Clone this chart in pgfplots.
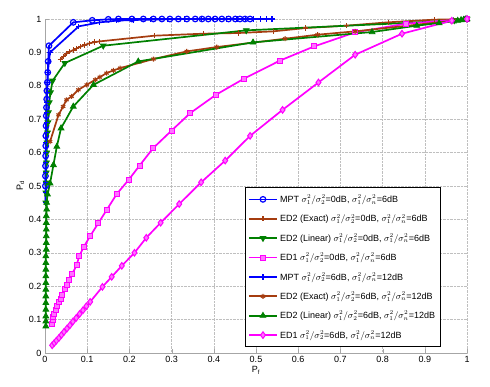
\documentclass[border=0pt]{standalone}
\usepackage{pgfplots}
\pgfplotsset{compat=1.18}
\usepackage{fontspec}
\setmainfont{Liberation Sans}
\usetikzlibrary{calc}

\definecolor{cblue}{RGB}{0,0,255}
\definecolor{cbrown}{RGB}{165,60,15}
\definecolor{cgreen}{RGB}{0,128,0}
\definecolor{cmag}{RGB}{255,0,255}

\begin{document}
\begin{tikzpicture}
\begin{axis}[
    name=ax,
    scale only axis,
    width=422pt, height=334pt,
    xmin=0, xmax=1, ymin=0, ymax=1,
    xtick={0,0.1,...,1}, ytick={0,0.1,...,1},
    xticklabels={0,0.1,0.2,0.3,0.4,0.5,0.6,0.7,0.8,0.9,1},
    yticklabels={0,0.1,0.2,0.3,0.4,0.5,0.6,0.7,0.8,0.9,1},
    axis lines=left,
    axis line style={gray!70, -},
    tick style={gray!70},
    tick align=inside,
    grid=major,
    grid style={densely dotted, gray!50},
    font=\fontsize{9}{11}\selectfont,
    xlabel={P$_\mathrm{f}$}, ylabel={P$_\mathrm{d}$},
    xlabel style={yshift=3pt},
    ylabel style={yshift=-2pt},
    clip=false,
    every axis plot/.append style={line width=1.7pt},
    legend cell align=left,
    legend style={at={(0.937,0.018)}, anchor=south east, draw=black, line width=0.6pt,
        font=\fontsize{9}{10}\selectfont, row sep=6.2pt, inner xsep=3pt, inner ysep=5pt},
    legend image code/.code={\draw[mark repeat=2,mark phase=2] plot coordinates {(0cm,0cm)(0.5cm,0cm)(1cm,0cm)};},
]
% MPT 0dB / 6dB
\addplot[cblue, mark=o, mark size=2.8pt, mark options={line width=1.2pt}] coordinates {
(0.001,0.50)(0.001,0.53)(0.0012,0.56)(0.0015,0.59)(0.0018,0.62)(0.002,0.65)(0.0025,0.68)(0.003,0.71)
(0.0035,0.735)(0.004,0.76)(0.0045,0.785)(0.0055,0.81)(0.0065,0.84)(0.0075,0.873)(0.0095,0.92)
(0.067,0.99)(0.112,0.996)(0.15,0.999)(0.174,1)(0.206,1)(0.233,1)(0.257,1)(0.277,1)(0.296,1)(0.316,1)
(0.336,1)(0.356,1)(0.372,1)(0.387,1)(0.403,1)(0.419,1)(0.435,1)(0.451,1)(0.462,1)(0.474,1)(0.486,1)
};
\addlegendentry{MPT $\sigma_1^2/\sigma_2^2$=0dB, $\sigma_1^2/\sigma_n^2$=6dB}
% ED2 exact 0dB
\addplot[cbrown, mark=+, mark size=2.6pt, mark options={line width=1.1pt}] coordinates {
(0.036,0.878)(0.044,0.888)(0.051,0.896)(0.059,0.902)(0.067,0.907)(0.075,0.912)(0.084,0.917)
(0.094,0.922)(0.105,0.927)(0.118,0.931)(0.13,0.933)(0.259,0.95)(0.375,0.956)(0.458,0.958)
(0.541,0.963)(0.618,0.973)(0.714,0.98)(0.813,0.99)(0.923,0.998)(1,1)
};
\addlegendentry{ED2 (Exact) $\sigma_1^2/\sigma_2^2$=0dB, $\sigma_1^2/\sigma_n^2$=6dB}
% ED2 linear 0dB
\addplot[cgreen, mark=triangle*, mark size=3.3pt, mark options={rotate=180, line width=0.8pt}] coordinates {
(0.002,0.45)(0.002,0.48)(0.0025,0.51)(0.003,0.54)(0.0035,0.57)(0.004,0.60)(0.005,0.63)(0.006,0.66)
(0.007,0.69)(0.008,0.72)(0.01,0.75)(0.013,0.78)(0.018,0.815)(0.047,0.868)(0.138,0.92)(0.477,0.966)
(0.855,0.988)(0.97,0.996)(1,1)
};
\addlegendentry{ED2 (Linear) $\sigma_1^2/\sigma_2^2$=0dB, $\sigma_1^2/\sigma_n^2$=6dB}
% ED1 0dB
\addplot[cmag, mark=square*, mark size=2.5pt, mark options={fill=cmag!55, line width=1pt}] coordinates {
(0.017,0.088)(0.018,0.098)(0.020,0.108)(0.022,0.118)(0.025,0.128)(0.029,0.14)(0.033,0.153)
(0.037,0.163)(0.040,0.173)(0.047,0.193)(0.052,0.205)(0.057,0.218)(0.065,0.238)(0.075,0.263)
(0.081,0.29)(0.092,0.318)(0.107,0.35)(0.126,0.388)(0.146,0.428)(0.17,0.476)(0.198,0.518)
(0.224,0.561)(0.256,0.613)(0.300,0.666)(0.344,0.718)(0.405,0.773)(0.471,0.821)(0.556,0.875)
(0.638,0.918)(0.735,0.96)(0.855,0.986)(1,1)
};
\addlegendentry{ED1 $\sigma_1^2/\sigma_2^2$=0dB, $\sigma_1^2/\sigma_n^2$=6dB}
% MPT 6dB / 12dB
\addplot[cblue, mark=+, mark size=2.6pt, mark options={line width=1.1pt}] coordinates {
(0.001,0.45)(0.001,0.48)(0.0012,0.51)(0.0015,0.54)(0.0018,0.57)(0.002,0.60)(0.0025,0.63)(0.003,0.66)
(0.0035,0.69)(0.004,0.72)(0.0045,0.75)(0.005,0.78)(0.006,0.81)(0.007,0.84)(0.009,0.87)(0.012,0.90)
(0.08,0.978)(0.13,0.99)(0.17,0.995)(0.21,0.997)(0.25,0.998)(0.29,0.999)(0.33,1)(0.37,1)(0.40,1)
(0.43,1)(0.455,1)(0.475,1)(0.495,1)(0.51,1)(0.525,1)(0.538,1)
};
\addlegendentry{MPT $\sigma_1^2/\sigma_2^2$=6dB, $\sigma_1^2/\sigma_n^2$=12dB}
% ED2 exact 12dB
\addplot[cbrown, mark=asterisk, mark size=2.5pt, mark options={line width=1.1pt}] coordinates {
(0.012,0.633)(0.032,0.713)(0.043,0.738)(0.051,0.758)(0.063,0.768)(0.079,0.788)(0.099,0.803)
(0.119,0.818)(0.13,0.826)(0.146,0.838)(0.162,0.846)(0.178,0.853)(0.257,0.88)(0.336,0.903)
(0.407,0.916)(0.569,0.941)(0.646,0.953)(0.735,0.963)(0.97,0.995)(1,1)
};
\addlegendentry{ED2 (Exact) $\sigma_1^2/\sigma_2^2$=6dB, $\sigma_1^2/\sigma_n^2$=12dB}
% ED2 linear 12dB
\addplot[cgreen, mark=triangle*, mark size=3.3pt, mark options={line width=0.8pt}] coordinates {
(0.002,0.08)(0.002,0.095)(0.002,0.11)(0.002,0.13)(0.002,0.15)(0.002,0.17)(0.002,0.19)(0.002,0.21)
(0.002,0.23)(0.002,0.25)(0.002,0.27)(0.002,0.29)(0.003,0.31)(0.003,0.33)(0.003,0.35)(0.003,0.37)
(0.003,0.39)(0.003,0.41)(0.004,0.43)(0.004,0.45)(0.006,0.475)(0.012,0.508)(0.02,0.563)(0.028,0.618)
(0.038,0.673)(0.067,0.738)(0.115,0.803)(0.221,0.873)(0.493,0.93)(0.775,0.961)(0.881,0.98)
(0.934,0.988)(0.968,0.993)(0.978,0.995)(0.986,0.997)(0.992,0.998)(0.996,0.999)(1,1)
};
\addlegendentry{ED2 (Linear) $\sigma_1^2/\sigma_2^2$=6dB, $\sigma_1^2/\sigma_n^2$=12dB}
% ED1 12dB
\addplot[cmag, mark=diamond*, mark size=3.3pt, mark options={fill=cmag!55, line width=1pt}] coordinates {
(0.017,0.023)(0.022,0.030)(0.027,0.037)(0.033,0.045)(0.039,0.054)(0.045,0.063)(0.052,0.073)
(0.059,0.083)(0.066,0.094)(0.074,0.105)(0.082,0.117)(0.090,0.128)(0.098,0.14)(0.107,0.153)
(0.136,0.198)(0.158,0.228)(0.182,0.261)(0.212,0.30)(0.24,0.345)(0.274,0.39)(0.318,0.446)
(0.37,0.511)(0.427,0.576)(0.486,0.65)(0.563,0.728)(0.648,0.81)(0.735,0.893)(0.846,0.956)
(0.964,0.995)(1,1)
};
\addlegendentry{ED1 $\sigma_1^2/\sigma_2^2$=6dB, $\sigma_1^2/\sigma_n^2$=12dB}
\end{axis}
\pgfresetboundingbox
\path ($(ax.south west)+(-45pt,-34pt)$) rectangle ($(ax.north east)+(23pt,19pt)$);
\end{tikzpicture}
\end{document}
